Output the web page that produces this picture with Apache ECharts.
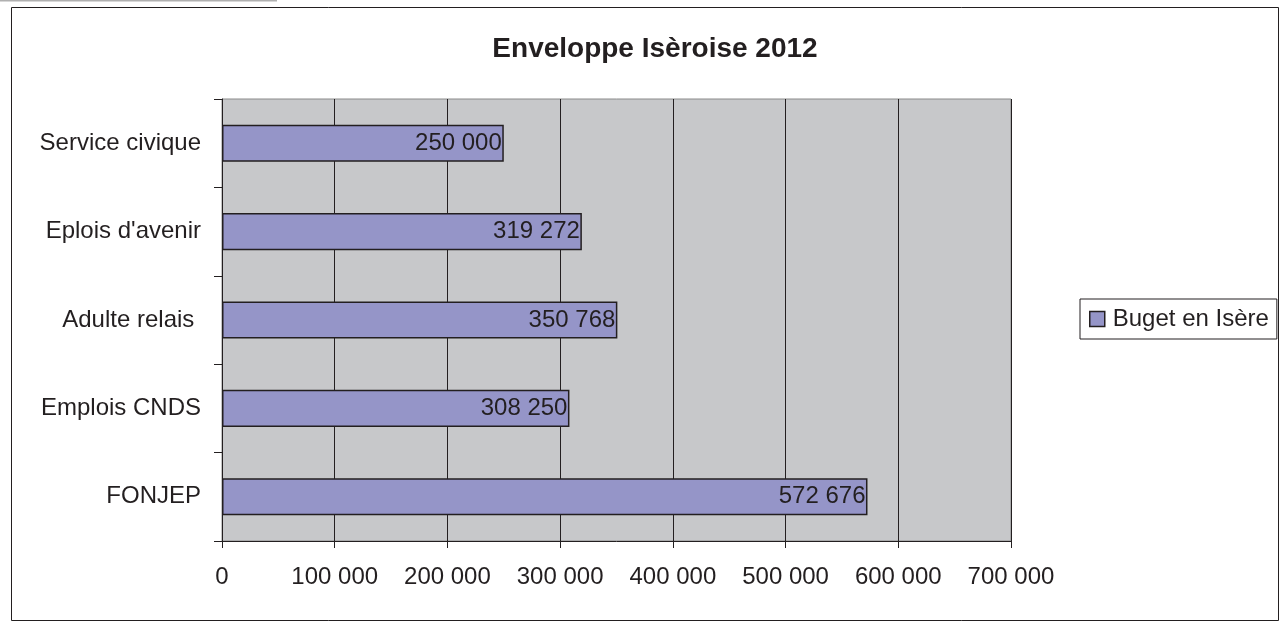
<!DOCTYPE html>
<html>
<head>
<meta charset="utf-8">
<script src="https://cdn.jsdelivr.net/npm/echarts@6/dist/echarts.min.js"></script>
<style>
html,body{margin:0;padding:0;background:#fff;}
#c{width:1286px;height:623px;}
</style>
</head>
<body>
<div id="c"></div>
<script>
const categories = ['FONJEP', 'Emplois CNDS', 'Adulte relais ', "Eplois d'avenir", 'Service civique'];
const values = [572676, 308250, 350768, 319272, 250000];
const seriesName = 'Buget en Isère';
const titleText = 'Enveloppe Isèroise 2012';

function fmt(v) {
  return String(Math.round(v)).replace(/\B(?=(\d{3})+(?!\d))/g, ' ');
}

const chart = echarts.init(document.getElementById('c'));
chart.setOption({
  animation: false,
  backgroundColor: '#fff',
  textStyle: { fontFamily: 'Liberation Sans, Arial, sans-serif' },
  title: {
    text: titleText,
    left: 650,
    textAlign: 'center',
    top: 30,
    textStyle: { fontSize: 28, fontWeight: 'bold', color: '#231f20', fontFamily: 'Liberation Sans, Arial, sans-serif' }
  },
  graphic: [
    { type: 'rect', shape: { x: 11.5, y: 7.5, width: 1267, height: 613 }, style: { fill: 'none', stroke: '#231f20', lineWidth: 1 }, z: 0 },
    { type: 'line', shape: { x1: 0, y1: 0.5, x2: 277, y2: 0.5 }, style: { stroke: '#b0b0b0', lineWidth: 2 } }
  ],
  legend: {
    left: 1080,
    top: 299,
    orient: 'vertical',
    data: [seriesName],
    icon: 'rect',
    itemWidth: 15,
    itemHeight: 15,
    itemGap: 0,
    padding: [8, 8, 8, 9],
    borderColor: '#231f20',
    borderWidth: 1,
    textStyle: { fontSize: 24, color: '#231f20', padding: [0, 0, 0, 3] },
    itemStyle: { borderColor: '#231f20', borderWidth: 1.5 }
  },
  grid: {
    left: 222, right: 275, top: 99, bottom: 82,
    show: true,
    backgroundColor: '#c7c8ca',
    borderColor: '#8a8a8a',
    borderWidth: 1
  },
  xAxis: {
    type: 'value',
    min: 0,
    max: 700000,
    interval: 100000,
    axisLine: { show: true, lineStyle: { color: '#231f20', width: 1 } },
    axisTick: { show: true, length: 7, lineStyle: { color: '#231f20' } },
    axisLabel: { fontSize: 24, color: '#231f20', margin: 24, formatter: v => fmt(v) },
    splitLine: { show: true, lineStyle: { color: '#231f20', width: 1 } }
  },
  yAxis: {
    type: 'category',
    data: categories,
    axisLine: { show: true, lineStyle: { color: '#231f20', width: 1 } },
    axisTick: { show: true, length: 8, lineStyle: { color: '#231f20' } },
    axisLabel: { fontSize: 24, color: '#231f20', margin: 21 },
    splitLine: { show: false }
  },
  series: [{
    name: seriesName,
    type: 'bar',
    data: values,
    barWidth: '42%',
    itemStyle: { color: '#9595c8', borderColor: '#231f20', borderWidth: 1.5 },
    label: {
      show: true,
      position: 'insideRight',
      distance: 2,
      fontSize: 24,
      color: '#231f20',
      formatter: p => fmt(p.value)
    }
  }]
});
</script>
</body>
</html>
